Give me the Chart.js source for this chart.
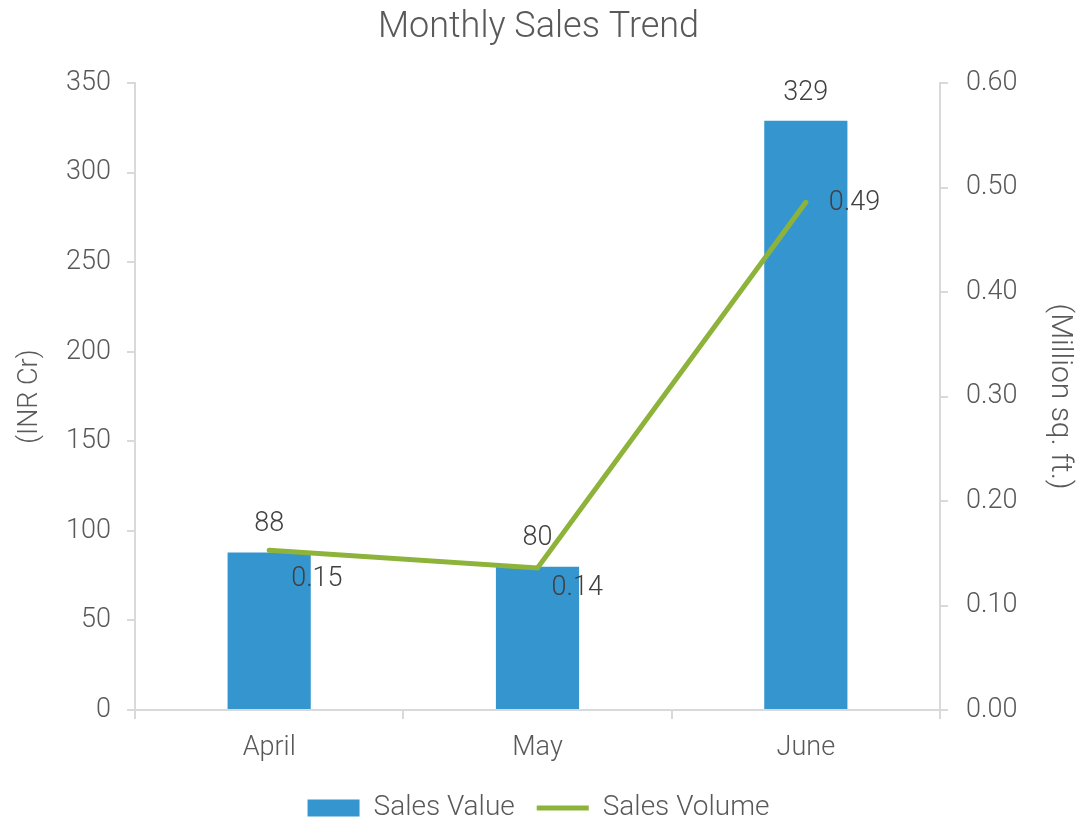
<!DOCTYPE html>
<html>
<head>
<meta charset="utf-8">
<script src="https://cdn.jsdelivr.net/npm/chart.js@4.4.1/dist/chart.umd.min.js"></script>
<style>
  html, body { margin: 0; padding: 0; background: #ffffff; }
  #wrap { width: 1077px; height: 822px; }
</style>
</head>
<body>
<div id="wrap"><canvas id="myChart" width="1077" height="822"></canvas></div>
<script>
"use strict";

// Chart data
const months = ["April", "May", "June"];
const salesValue = [88, 80, 329];          // INR Cr
const salesVolume = [0.153, 0.136, 0.486]; // Million sq. ft.
const valueLabels = ["88", "80", "329"];
const volumeLabels = ["0.15", "0.14", "0.49"];

const FONT = "Roboto";
const TEXT = "#595959";
const LABEL = "#404040";
const AXIS = "#d9d9d9";

// Small plugin that writes the value labels next to the bars and the line
const valueLabelPlugin = {
	id: "valueLabels",
	afterDatasetsDraw(chart, args, opts) {
		const ctx = chart.ctx;
		ctx.save();
		ctx.font = "300 27px " + FONT;
		ctx.fillStyle = LABEL;

		// bar labels, centred above each bar
		chart.getDatasetMeta(0).data.forEach(function (bar, i) {
			ctx.textAlign = "center";
			ctx.textBaseline = "middle";
			ctx.fillText(valueLabels[i], bar.x, bar.y - 28);
		});

		// line labels, to the right of each point
		chart.getDatasetMeta(1).data.forEach(function (pt, i) {
			const off = opts.lineOffsets[i];
			ctx.textAlign = "left";
			ctx.textBaseline = "middle";
			ctx.fillText(volumeLabels[i], pt.x + off[0], pt.y + off[1]);
		});
		ctx.restore();
	},
};

function fixWidth(w) {
	return function (scale) { scale.width = w; };
}

new Chart(document.getElementById("myChart"), {
	data: {
		labels: months,
		datasets: [
			{
				type: "bar",
				label: "Sales Value",
				data: salesValue,
				yAxisID: "y",
				backgroundColor: "#3596cf",
				borderWidth: 0,
				barPercentage: 0.31,
				categoryPercentage: 1,
				order: 1,
			},
			{
				type: "line",
				label: "Sales Volume",
				data: salesVolume,
				yAxisID: "y1",
				borderColor: "#8db33a",
				backgroundColor: "#8db33a",
				borderWidth: 5,
				borderCapStyle: "round",
				pointRadius: 0,
				tension: 0,
				order: 0,
			},
		],
	},
	plugins: [valueLabelPlugin],
	options: {
		responsive: false,
		animation: false,
		layout: { padding: { top: 0, bottom: -10, left: 0, right: 0 } },
		plugins: {
			title: {
				display: true,
				text: "Monthly Sales Trend",
				color: TEXT,
				font: { family: FONT, size: 36, weight: "300" },
				padding: { top: 6, bottom: 34 },
			},
			legend: {
				position: "bottom",
				labels: {
					color: TEXT,
					font: { family: FONT, size: 28, weight: "300" },
					usePointStyle: true,
					pointStyleWidth: 52,
					boxHeight: 17,
					padding: 22,
					sort(a, b) { return a.datasetIndex - b.datasetIndex; },
					generateLabels(chart) {
						const items = Chart.defaults.plugins.legend.labels.generateLabels(chart);
						items.forEach(function (it) {
							it.pointStyle = it.datasetIndex === 1 ? "line" : "rect";
						});
						return items;
					},
				},
			},
			tooltip: { enabled: false },
			valueLabels: {
				lineOffsets: [[22, 29], [14, 20], [23, 1]],
			},
		},
		scales: {
			x: {
				offset: true,
				grid: { offset: true, drawOnChartArea: false, color: AXIS, lineWidth: 2, tickLength: 9 },
				border: { color: AXIS, width: 2 },
				ticks: { color: TEXT, font: { family: FONT, size: 27, weight: "300" }, padding: 13 },
				afterFit(scale) { scale.height = 62; },
			},
			y: {
				position: "left",
				min: 0,
				max: 350,
				ticks: { stepSize: 50, color: TEXT, font: { family: FONT, size: 27, weight: "300" }, padding: 16 },
				grid: { drawOnChartArea: false, color: AXIS, lineWidth: 2, tickLength: 8 },
				border: { color: AXIS, width: 2 },
				title: {
					display: true,
					text: "(INR Cr)",
					color: TEXT,
					font: { family: FONT, size: 27, weight: "300" },
					padding: { top: 14, bottom: 0 },
				},
				afterFit: fixWidth(135),
			},
			y1: {
				position: "right",
				min: 0,
				max: 0.6,
				ticks: {
					stepSize: 0.1,
					color: TEXT,
					font: { family: FONT, size: 27, weight: "300" },
					padding: 18,
					callback(v) { return Number(v).toFixed(2); },
				},
				grid: { drawOnChartArea: false, color: AXIS, lineWidth: 2, tickLength: 8 },
				border: { color: AXIS, width: 2 },
				title: {
					display: true,
					text: "(Million sq. ft.)",
					color: TEXT,
					font: { family: FONT, size: 30, weight: "300" },
					padding: { top: 0, bottom: 0 },
				},
				afterFit: fixWidth(137),
			},
		},
	},
});
</script>
</body>
</html>
